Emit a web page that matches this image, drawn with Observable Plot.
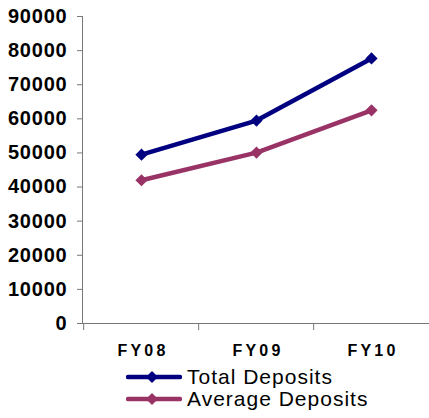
<!DOCTYPE html>
<html>
<head>
<meta charset="utf-8">
<script src="https://cdn.jsdelivr.net/npm/d3@7"></script>
<script src="https://cdn.jsdelivr.net/npm/@observablehq/plot@0.6"></script>
<style>
  body { margin: 0; background: #fff; font-family: "Liberation Sans", Arial, sans-serif; }
  #chart { width: 429px; height: 418px; position: relative; background: #fff; overflow: hidden; }
  g[aria-label="y-axis tick label"] text { letter-spacing: 0.8px; }
  g[aria-label="x-axis tick label"] text { letter-spacing: 3.2px; }
  .legend { padding-left: 126px; margin-top: 4px; }
  .legend .row { display: flex; align-items: center; height: 22px; }
  .legend svg { display: block; margin-right: 5px; }
  .legend span { font-size: 21px; letter-spacing: 1px; color: #000; line-height: 22px; }
</style>
</head>
<body>
<div id="chart"></div>
<script>
const categories = ["FY08", "FY09", "FY10"];
const totalDeposits = [49500, 59500, 77700];
const averageDeposits = [42000, 50100, 62500];
const seriesNames = ["Total Deposits", "Average Deposits"];
const seriesColors = ["#000080", "#993366"];
const yTicks = [0, 10000, 20000, 30000, 40000, 50000, 60000, 70000, 80000, 90000];

const seriesValues = [totalDeposits, averageDeposits];
const data = seriesNames.flatMap((name, s) =>
  categories.map((c, i) => ({ series: name, category: c, value: seriesValues[s][i] }))
);

const W = 429, H = 362, ML = 82, MR = 0;
const step = (W - ML - MR) / categories.length;

const plot = Plot.plot({
  width: W,
  height: H,
  marginLeft: ML,
  marginRight: MR,
  marginTop: 16,
  marginBottom: 39,
  style: { fontFamily: "'Liberation Sans', Arial, sans-serif", background: "#fff", color: "#000" },
  x: { type: "point", domain: categories, padding: 0.5 },
  y: { domain: [0, 90000] },
  color: { domain: seriesNames, range: seriesColors },
  marks: [
    Plot.frame({ anchor: "left", stroke: "#777" }),
    Plot.ruleY([0], { stroke: "#777" }),
    Plot.axisY({ ticks: yTicks, tickSize: 5, tickPadding: 10, tickFormat: d => String(d),
      fontSize: 20, fontWeight: "bold", stroke: "#777", label: null }),
    Plot.axisX({ tickSize: 7, text: null, dx: -step / 2, stroke: "#777", label: null }),
    Plot.axisX({ tickSize: 0, tickPadding: 21, fontSize: 16, fontWeight: "bold", dx: 1.5, label: null }),
    Plot.line(data, { x: "category", y: "value", z: "series", stroke: "series", strokeWidth: 4.5 }),
    Plot.dot(data, { x: "category", y: "value", fill: "series", symbol: "diamond2", r: 5.5 })
  ]
});

const chart = document.getElementById("chart");
chart.appendChild(plot);

const legend = document.createElement("div");
legend.className = "legend";
seriesNames.forEach((name, i) => {
  const row = document.createElement("div");
  row.className = "row";
  row.innerHTML =
    `<svg width="56" height="14" viewBox="0 0 56 14">
       <line x1="2" y1="7" x2="54" y2="7" stroke="${seriesColors[i]}" stroke-width="4.5" stroke-linecap="round"/>
       <path d="M26 1 L32 7 L26 13 L20 7 Z" fill="${seriesColors[i]}"/>
     </svg><span>${name}</span>`;
  legend.appendChild(row);
});
chart.appendChild(legend);
</script>
</body>
</html>
